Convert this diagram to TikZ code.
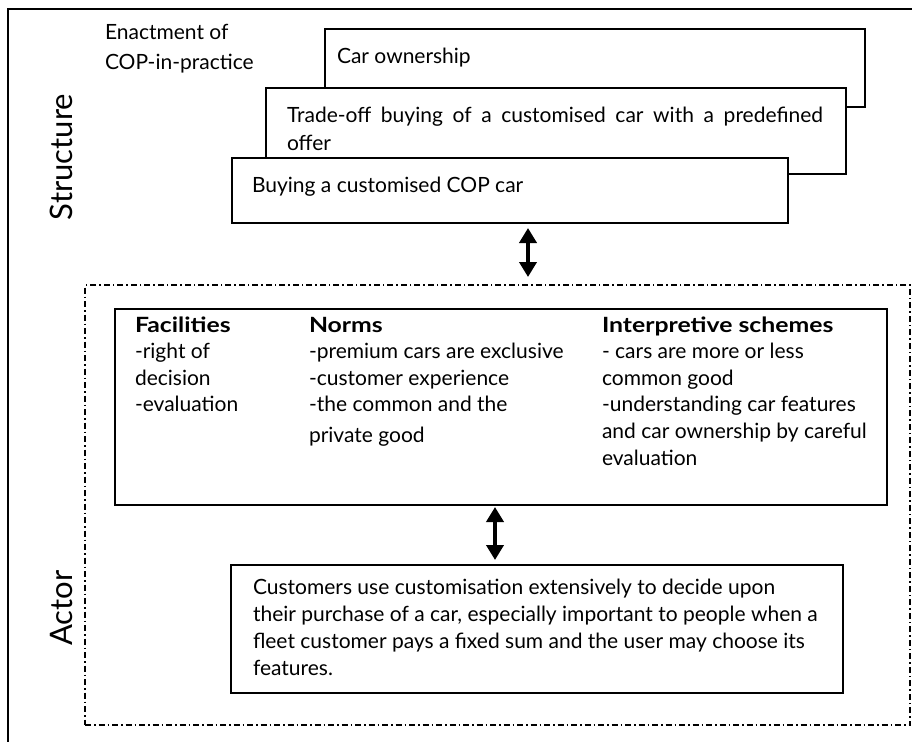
\documentclass[tikz,border=0pt]{standalone}
\usepackage{fontspec}
\setmainfont{Lato}
\newfontfamily\headfont{Lato}[FakeStretch=1.18]
\usetikzlibrary{arrows.meta}

\begin{document}
\begin{tikzpicture}[x=1pt, y=-1pt,
	every node/.style={font=\fontsize{21}{27}\selectfont, inner sep=0pt, outer sep=0pt},
	box/.style={draw, line width=1.6pt, fill=white, rectangle},
	txt/.style={anchor=base west, align=left},
	side/.style={font=\fontsize{31}{31}\selectfont, rotate=90, anchor=base},
	dbl/.style={{Triangle[width=17pt,length=15pt]}-{Triangle[width=17pt,length=15pt]}, line width=4pt}]
	\useasboundingbox (0,0) rectangle (912,742);
	\draw[line width=2.2pt] (912,9) -- (8,9) -- (8,742);
	\node[side] (struct) at (72,157) {Structure};
	\node[side] (actor) at (72,608) {Actor};
	% multi-line nodes: base is the last line
	\node[txt, font=\fontsize{21}{30}\selectfont] (enact) at (105,69) {Enactment of\\COP-in-practice};
	\node[box, minimum width=540pt, minimum height=78pt] (own) at (595,68) {};
	\node[txt] (owntxt) at (337,63) {Car ownership};
	\node[box, minimum width=580pt, minimum height=86pt] (trade) at (556,131) {};
	\node[txt, align=justify, text width=536pt, font=\fontsize{21}{28}\selectfont] (tradetxt) at (287,122) {Trade-off buying of a customised car with a predefined\linebreak offer};
	\node[box, minimum width=556pt, minimum height=65pt] (buy) at (510,190.5) {};
	\node[txt] (buytxt) at (252,192) {Buying a customised COP car};
	\node[draw, line width=1.5pt, dash pattern=on 6pt off 3pt on 1.5pt off 3pt, minimum width=825pt, minimum height=440pt] (frame) at (497.5,505) {};
	\draw[dbl, shorten <=5pt, shorten >=8pt] ([xshift=18pt]buy.south) -- ([xshift=18pt]buy.south |- frame.north);
	\node[box, minimum width=772pt, minimum height=196pt] (inner) at (501,407) {};
	\node[txt, font=\fontsize{21}{26.6}\selectfont] (fac) at (135,411.8) {{\headfont\bfseries Facilities}\\-right of\\decision\\-evaluation};
	\node[txt, font=\fontsize{21}{26.6}\selectfont] (norms) at (309,442) {{\headfont\bfseries Norms}\\-premium cars are exclusive\\-customer experience\\-the common and the\\[3.6pt]private good};
	\node[txt, font=\fontsize{21}{26.6}\selectfont] (interp) at (602,465) {{\headfont\bfseries Interpretive schemes}\\- cars are more or less\\common good\\-understanding car features\\and car ownership by careful\\evaluation};
	\node[box, minimum width=612pt, minimum height=128pt] (cust) at (537,629) {};
	\node[txt, font=\fontsize{21}{26.7}\selectfont] (custtxt) at (253,675) {Customers use customisation extensively to decide upon\\their purchase of a car, especially important to people when a\\fleet customer pays a fixed sum and the user may choose its\\features.};
	\draw[dbl, shorten <=2pt, shorten >=5pt] ([xshift=-6pt]inner.south) -- ([xshift=-6pt]inner.south |- cust.north);
\end{tikzpicture}
\end{document}
